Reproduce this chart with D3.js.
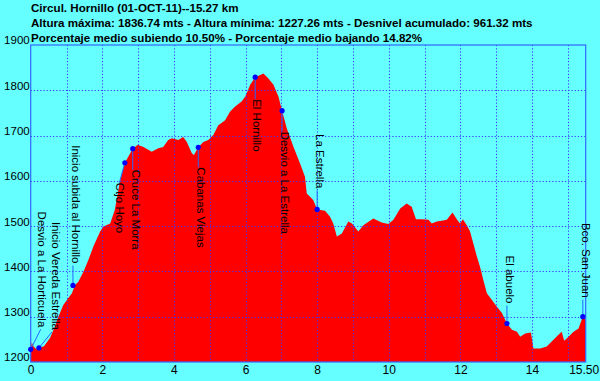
<!DOCTYPE html>
<html><head><meta charset="utf-8">
<script src="https://cdn.jsdelivr.net/npm/d3@7"></script>
<style>
html,body{margin:0;padding:0;background:#66ffff;}
svg{display:block;}
text{font-family:Arial,"Liberation Sans",sans-serif;}
</style></head>
<body>
<script>
// ---- data ----
const titleLines = [
  "Circul. Hornillo (01-OCT-11)--15.27 km",
  "Altura máxima: 1836.74 mts - Altura mínima: 1227.26 mts - Desnivel acumulado: 961.32 mts",
  "Porcentaje medio subiendo 10.50% - Porcentaje medio bajando 14.82%"
];
const distanceKm = [0.00,0.03,0.09,0.15,0.23,0.37,0.54,0.68,0.76,0.91,1.15,1.24,1.33,1.47,1.61,1.75,1.94,2.03,2.22,2.35,2.40,2.49,2.63,2.85,2.99,3.15,3.38,3.56,3.70,3.84,3.94,4.12,4.26,4.36,4.50,4.56,4.68,4.82,4.96,5.10,5.24,5.43,5.57,5.71,5.89,5.99,6.13,6.27,6.41,6.50,6.64,6.78,6.92,7.02,7.15,7.34,7.52,7.66,7.71,7.89,8.00,8.22,8.36,8.45,8.55,8.69,8.87,8.97,9.15,9.29,9.57,9.80,9.99,10.13,10.32,10.50,10.64,10.76,10.92,11.11,11.20,11.34,11.48,11.62,11.78,11.90,11.99,12.07,12.18,12.27,12.36,12.46,12.55,12.64,12.74,12.88,13.02,13.16,13.30,13.44,13.58,13.67,13.81,13.97,14.04,14.23,14.41,14.60,14.74,14.83,14.90,15.02,15.16,15.30,15.42,15.50];
const elevation = [1229,1243,1233,1229,1231,1235,1253,1279,1297,1326,1352,1370,1377,1399,1425,1455,1488,1499,1506,1536,1558,1598,1640,1671,1680,1675,1664,1672,1675,1690,1694,1690,1697,1686,1661,1657,1674,1686,1690,1701,1723,1734,1753,1764,1775,1786,1812,1829,1834,1837,1826,1812,1786,1755,1716,1675,1639,1609,1572,1558,1537,1534,1521,1506,1477,1484,1510,1506,1488,1502,1517,1508,1505,1514,1539,1550,1543,1515,1515,1514,1506,1510,1512,1514,1530,1515,1506,1515,1502,1488,1462,1433,1410,1381,1352,1337,1322,1308,1285,1271,1267,1256,1263,1265,1230,1230,1234,1249,1260,1267,1247,1256,1267,1274,1300,1293];
const waypointNames = ["Desvio a La Horticuela","Inicio Vereda Estrella","Inicio subida al Hornillo","Ctjo Hoyo","Cruce La Morra","Cabanas Viejas","El Hornillo","Desvio a La Estrella","La Estrella","El abuelo","Bco. San Juan"];
const waypointKm = [0.00,0.23,1.18,2.63,2.85,4.68,6.27,7.02,8.00,13.30,15.42];
const waypointElev = [1228,1231,1369,1640,1671,1674,1829,1755,1537,1285,1300];
const xTicks = [0,2,4,6,8,10,12,14,15.5];
const xTickLabels = ["0","2","4","6","8","10","12","14","15.50"];
const yTicks = [1200,1300,1400,1500,1600,1700,1800,1900];

// ---- label layout (pixel offsets from the marker) ----
// [labelDx, side(+1 below / -1 above), gap, connectorDx]
const labelLayout = [[11,-1,22,10],[17.5,-1,18,13],[3,-1,22,0],[-5,1,20,-5.5],[3.5,1,21,0],[3,1,20,0],[2,1,22,0],[3,1,21,0],[3,-1,21,0],[3,-1,20,0],[3,-1,19,0]];

const W=600,H=381;
const svg=d3.select("body").append("svg").attr("width",W).attr("height",H);
svg.append("rect").attr("width",W).attr("height",H).attr("fill","#66ffff");

const x=d3.scaleLinear().domain([0,15.5]).range([30.7,585.7]);
const y=d3.scaleLinear().domain([1200,1900]).range([362,45]);

const profile=distanceKm.map((d,i)=>({km:d,el:elevation[i]}));

// area
svg.append("path").datum(profile)
  .attr("d",d3.area().x(d=>x(d.km)).y0(y(1200)).y1(d=>y(d.el)))
  .attr("fill","#ff0000");

// grid
const grid=svg.append("g").attr("stroke","#3a3aff").attr("stroke-width",1).attr("stroke-dasharray","1.2,2").attr("fill","none");
grid.selectAll("line.v").data(d3.range(1,16)).join("line")
  .attr("x1",d=>Math.round(x(d))+0.5).attr("x2",d=>Math.round(x(d))+0.5)
  .attr("y1",y(1900)).attr("y2",y(1200));
grid.selectAll("line.h").data(d3.range(1300,1900,100)).join("line")
  .attr("y1",d=>Math.round(y(d))+0.5).attr("y2",d=>Math.round(y(d))+0.5)
  .attr("x1",x(0)).attr("x2",x(15.5));

// frame
svg.append("rect").attr("x",x(0)).attr("y",y(1900)).attr("width",x(15.5)-x(0)).attr("height",y(1200)-y(1900))
  .attr("fill","none").attr("stroke","#3366ff").attr("stroke-width",1.2);

// axes
const xAxis=svg.append("g").attr("transform",`translate(0,${y(1200)})`)
  .call(d3.axisBottom(x).tickValues(xTicks).tickSize(0).tickPadding(3).tickFormat((d,i)=>xTickLabels[i]));
xAxis.select(".domain").remove();
xAxis.selectAll("text").attr("font-size",12).attr("fill","#000").attr("font-family","Arial, 'Liberation Sans', sans-serif");
xAxis.selectAll(".tick").filter(d=>d===15.5).select("text").attr("text-anchor","end").attr("dx",13);

const yAxis=svg.append("g").attr("transform",`translate(${x(0)},0)`)
  .call(d3.axisLeft(y).tickValues(yTicks).tickSize(0).tickPadding(1).tickFormat(d3.format("d")));
yAxis.select(".domain").remove();
yAxis.selectAll("text").attr("font-size",11.5).attr("fill","#000").attr("dy","-0.1em").attr("font-family","Arial, 'Liberation Sans', sans-serif");

// title
svg.append("g").selectAll("text").data(titleLines).join("text")
  .attr("x",31).attr("y",(d,i)=>11.5+i*15)
  .attr("font-size",11.6).attr("font-weight","bold").attr("fill","#000")
  .text(d=>d);

// waypoints
const wp=waypointNames.map((n,i)=>({name:n,km:waypointKm[i],el:waypointElev[i],lay:labelLayout[i]}));
const g=svg.append("g");
wp.forEach(d=>{
  const px=x(d.km), py=y(d.el);
  const [dx,side,gap,cdx]=d.lay;
  const endY=py+side*gap;
  g.append("line").attr("x1",px).attr("y1",py).attr("x2",px+cdx).attr("y2",endY+(side>0?0:2))
    .attr("stroke","#2266ff").attr("stroke-width",1);
  g.append("circle").attr("cx",px).attr("cy",py).attr("r",2.6).attr("fill","#0000ff");
  g.append("text").attr("transform",`translate(${px+dx},${endY}) rotate(90)`)
    .attr("text-anchor",side>0?"start":"end").attr("dominant-baseline","central")
    .attr("font-size",11.5).attr("fill","#000").text(d.name);
});
</script>
</body></html>
